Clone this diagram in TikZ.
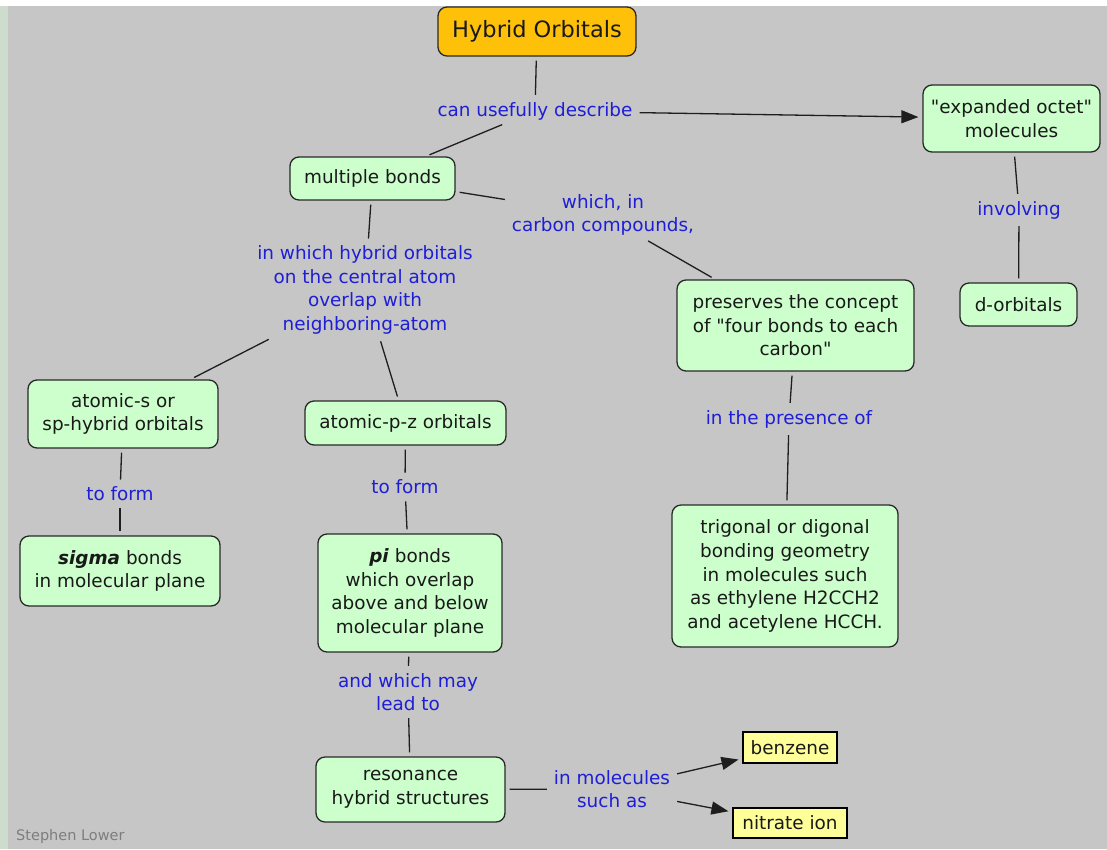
\documentclass[tikz,border=0pt]{standalone}
\usepackage{fontspec}
\setmainfont{DejaVu Sans}[Ligatures=TeXOff]
\usetikzlibrary{arrows.meta}
\definecolor{bggray}{RGB}{198,198,198}
\definecolor{stripgreen}{RGB}{205,220,205}
\definecolor{boxfill}{RGB}{204,255,204}
\definecolor{boxline}{RGB}{40,40,40}
\definecolor{titlefill}{RGB}{255,192,10}
\definecolor{yellowfill}{RGB}{255,255,153}
\definecolor{labblue}{RGB}{30,30,215}
\definecolor{linecol}{RGB}{30,30,30}
\definecolor{signgray}{RGB}{125,125,125}
\newcommand{\nodefont}{\fontsize{18.4}{23.6}\selectfont}
\tikzset{
  box/.style={draw=boxline, fill=boxfill, rounded corners=9pt, line width=1.3pt,
    align=center, font=\nodefont, inner sep=2pt, text=black!90},
  ybox/.style={draw=black, fill=yellowfill, line width=1.3pt,
    align=center, font=\nodefont, inner sep=2pt, text=black!90},
  lab/.style={text=labblue, align=center, font=\nodefont, inner sep=3pt},
  conn/.style={draw=linecol, line width=1.3pt, shorten <=4pt, shorten >=4pt},
  arr/.style={conn, -{Triangle[length=17pt,width=13pt]}}
}
\begin{document}
\begin{tikzpicture}[x=1pt,y=-1pt]
\useasboundingbox (0,0) rectangle (1107,849);
\fill[bggray] (0,0) rectangle (1107,849);
\fill[white] (0,0) rectangle (1107,6);
\fill[stripgreen] (0,6) rectangle (8,849);

% nodes
\node[box, fill=titlefill, minimum width=198pt, minimum height=49pt,
  font=\fontsize{22.5}{27}\selectfont] (ho) at (537,31.5) {Hybrid Orbitals};
\node[lab] (cud) at (535,111) {can usefully describe};
\node[box, minimum width=177pt, minimum height=67pt] (eo) at (1011.5,118.5) {"expanded octet"\\molecules};
\node[lab] (inv) at (1019,210) {involving};
\node[box, minimum width=117pt, minimum height=43pt] (dorb) at (1018.5,304.5) {d-orbitals};
\node[box, minimum width=165pt, minimum height=43pt] (mb) at (372.5,178.5) {multiple bonds};
\node[lab] (wic) at (603,215) {which, in\\carbon compounds,};
\node[lab] (iwh) at (365,290) {in which hybrid orbitals\\on the central atom\\overlap with\\neighboring-atom};
\node[box, minimum width=237pt, minimum height=91pt] (pres) at (795.5,325.5) {preserves the concept\\of "four bonds to each\\carbon"};
\node[lab] (itp) at (789,419) {in the presence of};
\node[box, minimum width=226pt, minimum height=142pt] (trig) at (785,576) {trigonal or digonal\\bonding geometry\\in molecules such\\as ethylene H2CCH2\\and acetylene HCCH.};
\node[box, minimum width=190pt, minimum height=68pt] (as) at (123,414) {atomic-s or\\sp-hybrid orbitals};
\node[box, minimum width=201pt, minimum height=44pt] (apz) at (405.5,423) {atomic-p-z orbitals};
\node[lab] (tf1) at (120,494) {to form};
\node[lab] (tf2) at (405,487) {to form};
\node[box, minimum width=200pt, minimum height=70pt] (sig) at (120,571) {\textbf{\textit{sigma}} bonds\\in molecular plane};
\node[box, minimum width=184pt, minimum height=118pt] (pi) at (410,593) {\textbf{\textit{pi}} bonds\\which overlap\\above and below\\molecular plane};
\node[lab] (awm) at (408,692) {and which may\\lead to};
\node[box, minimum width=189pt, minimum height=65pt] (res) at (410.5,789.5) {resonance\\hybrid structures};
\node[lab] (imsa) at (612,789) {in molecules\\such as};
\node[ybox, minimum width=94pt, minimum height=31pt] (benz) at (790,747.5) {benzene};
\node[ybox, minimum width=114pt, minimum height=30pt] (nit) at (790,823) {nitrate ion};
\node[anchor=base west, text=signgray, font=\fontsize{14.5}{17}\selectfont, inner sep=0pt] (sl) at (16,840) {Stephen Lower};

% connectors
\draw[conn] (ho) -- (cud);
\draw[arr] (cud) -- (eo);
\draw[conn] (cud) -- (mb);
\draw[conn] (eo) -- (inv);
\draw[conn] (inv) -- (dorb);
\draw[conn] (mb) -- (wic);
\draw[conn] (wic) -- (pres);
\draw[conn] (pres) -- (itp);
\draw[conn] (itp) -- (trig);
\draw[conn] (mb) -- (iwh);
\draw[conn] (iwh) -- (as);
\draw[conn] (iwh) -- (apz);
\draw[conn] (as) -- (tf1);
\draw[conn] (tf1) -- (sig);
\draw[conn] (apz) -- (tf2);
\draw[conn] (tf2) -- (pi);
\draw[conn] (pi) -- (awm);
\draw[conn] (awm) -- (res);
\draw[conn] (res) -- (imsa);
\draw[arr] (imsa) -- (benz);
\draw[arr] (imsa) -- (nit);
\end{tikzpicture}
\end{document}
